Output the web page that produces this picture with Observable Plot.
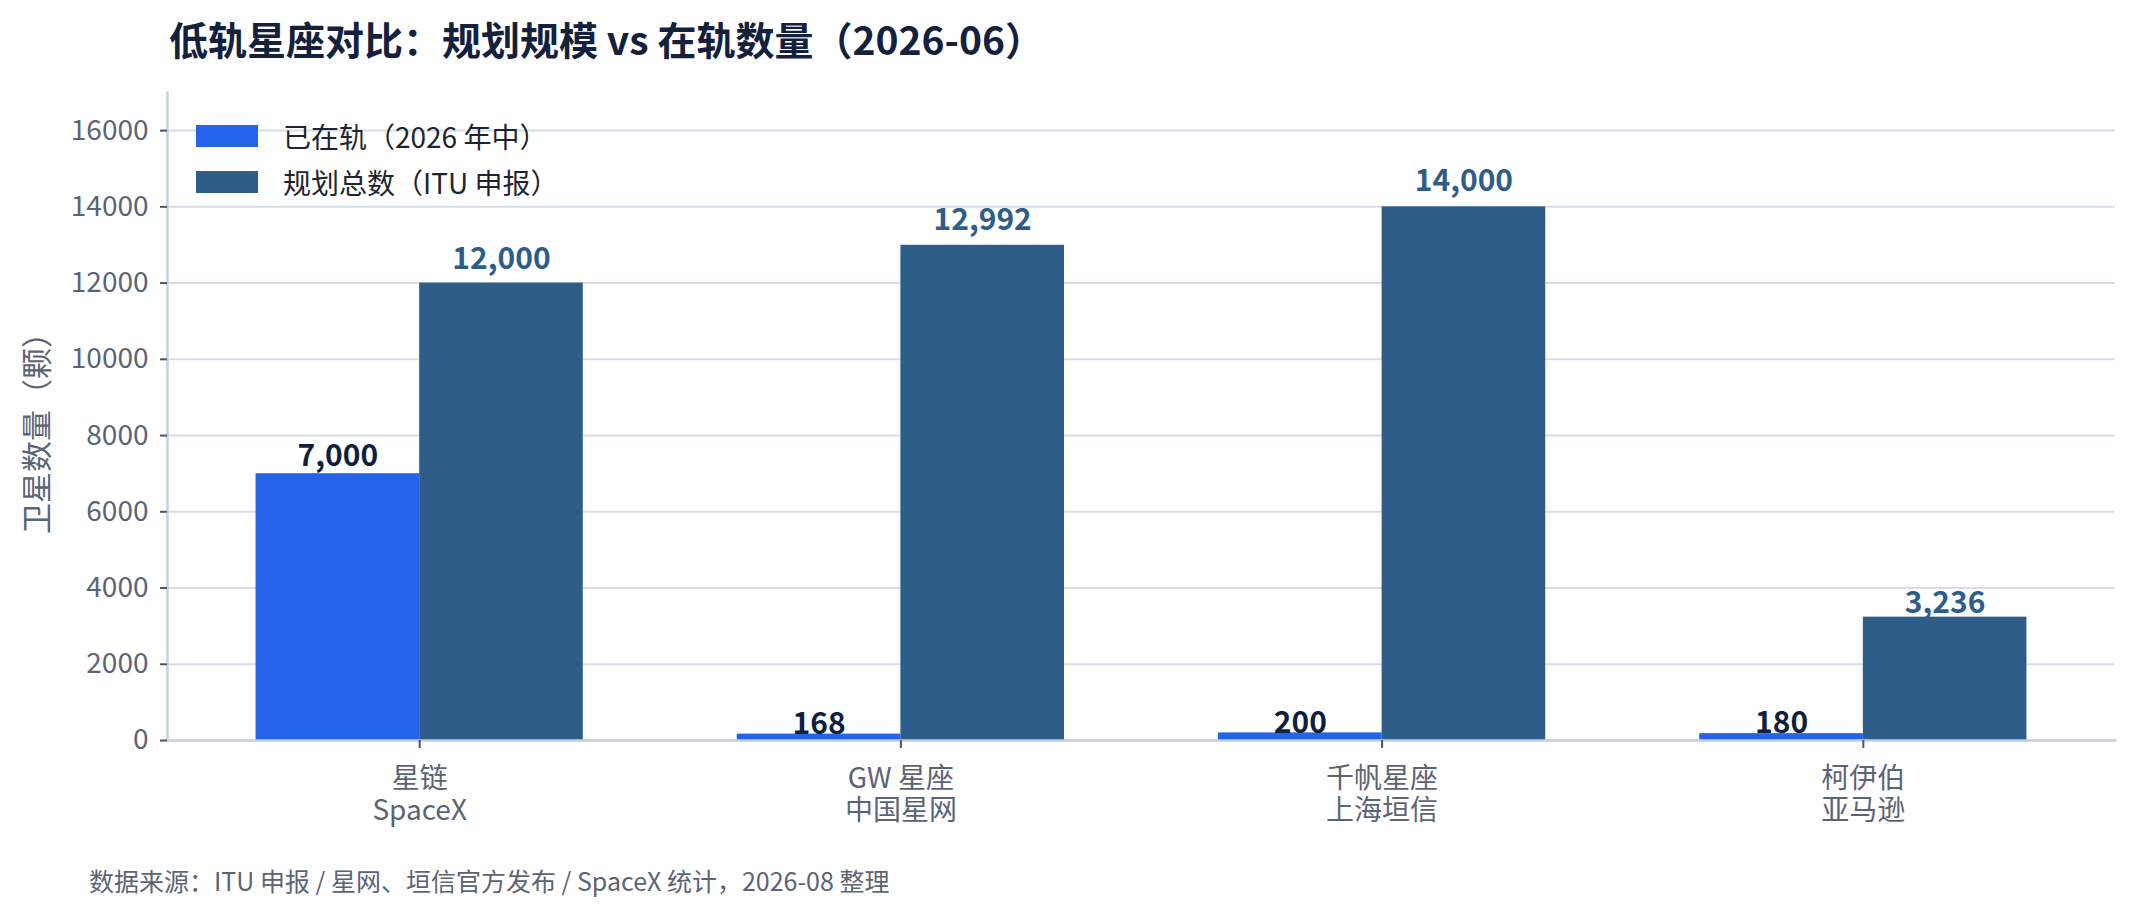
<!DOCTYPE html>
<html>
<head>
<meta charset="utf-8">
<script src="https://cdn.jsdelivr.net/npm/d3@7"></script>
<script src="https://cdn.jsdelivr.net/npm/@observablehq/plot@0.6"></script>
<style>
html, body { margin: 0; padding: 0; background: #fff; }
body { width: 2136px; height: 917px; overflow: hidden; font-family: "Noto Sans CJK SC", "Noto Sans", sans-serif; }
#wrap { position: relative; width: 2136px; height: 917px; }
#title { position: absolute; left: 169px; top: 19px; font-size: 39px; font-weight: 700; line-height: 1; color: #14213d; white-space: nowrap; }
#chart { position: absolute; left: 0; top: 70px; }
#legend { position: absolute; left: 196px; top: 113px; }
.item { display: flex; align-items: center; height: 46px; font-size: 28px; color: #1f2430; white-space: nowrap; }
.sw { width: 62px; height: 22px; margin-right: 25px; }
#caption { position: absolute; left: 89px; top: 868px; font-size: 25px; line-height: 1; color: #5b6475; white-space: nowrap; }
</style>
</head>
<body>
<div id="wrap">
  <div id="title"></div>
  <div id="chart"></div>
  <div id="legend"></div>
  <div id="caption"></div>
</div>
<script>
const titleText = "低轨星座对比：规划规模 vs 在轨数量（2026-06）";
const captionText = "数据来源：ITU 申报 / 星网、垣信官方发布 / SpaceX 统计，2026-08 整理";
const yLabel = "卫星数量（颗）";

const categories = ["星链", "GW 星座", "千帆星座", "柯伊伯"];
const operators = ["SpaceX", "中国星网", "上海垣信", "亚马逊"];
const inOrbit = [7000, 168, 200, 180];
const planned = [12000, 12992, 14000, 3236];
const yTicks = [0, 2000, 4000, 6000, 8000, 10000, 12000, 14000, 16000];
const seriesNames = ["已在轨（2026 年中）", "规划总数（ITU 申报）"];
const seriesColors = ["#2563eb", "#2f5d8a"];

document.getElementById("title").textContent = titleText;
document.getElementById("caption").textContent = captionText;
const legend = document.getElementById("legend");
seriesNames.forEach((n, k) => {
  const it = document.createElement("div");
  it.className = "item";
  const sw = document.createElement("div");
  sw.className = "sw";
  sw.style.background = seriesColors[k];
  const tx = document.createElement("span");
  tx.textContent = n;
  it.appendChild(sw); it.appendChild(tx);
  legend.appendChild(it);
});

const rows = categories.map((c, i) => ({i, name: c, op: operators[i], orbit: inOrbit[i], plan: planned[i]}));
const W = 0.34;          // bar width in category units
const lift = 1.03;       // labels sit just above each bar, proportional to its height
const fmt = d3.format(",");
const axisColor = "#c5d0e0";
const labelFont = {fontWeight: "bold", fontSize: 30, lineAnchor: "bottom", textAnchor: "middle"};

const chart = Plot.plot({
  width: 2136,
  height: 780,
  marginTop: 22,
  marginBottom: 110,
  marginLeft: 167,
  marginRight: 21,
  style: {fontFamily: "'Noto Sans CJK SC', 'Noto Sans', sans-serif", fontSize: "28px", background: "transparent", overflow: "visible"},
  x: {domain: [-0.524, 3.524]},
  y: {domain: [0, 17000]},
  marks: [
    Plot.gridY(yTicks, {stroke: "#d5dde8", strokeOpacity: 1, strokeWidth: 2}),
    Plot.rect(rows, {x1: d => d.i - W, x2: d => d.i, y1: 0, y2: "orbit", fill: seriesColors[0]}),
    Plot.rect(rows, {x1: d => d.i, x2: d => d.i + W, y1: 0, y2: "plan", fill: seriesColors[1]}),
    Plot.frame({anchor: "left", stroke: axisColor, strokeWidth: 2.5}),
    Plot.frame({anchor: "bottom", stroke: axisColor, strokeWidth: 2.5}),
    Plot.axisX({
      ticks: rows.map(d => d.i),
      tickFormat: i => categories[i] + "\n" + operators[i],
      tickSize: 8, tickPadding: 16, lineHeight: 1.16,
      stroke: "#4b5563", strokeWidth: 2, fill: "#5b6475", label: null
    }),
    Plot.axisY({
      ticks: yTicks, tickFormat: d3.format("d"),
      tickSize: 7, tickPadding: 12,
      stroke: "#4b5563", strokeWidth: 2, fill: "#5b6475",
      label: null
    }),
    Plot.text([yLabel], {frameAnchor: "left", rotate: -90, dx: -129, dy: 9, fontSize: 31, fill: "#5b6475", textAnchor: "middle", lineAnchor: "middle"}),
    Plot.text(rows, {x: d => d.i - W / 2, y: d => d.orbit * lift, text: d => fmt(d.orbit), fill: "#0f1f3d", ...labelFont}),
    Plot.text(rows, {x: d => d.i + W / 2, y: d => d.plan * lift, text: d => fmt(d.plan), fill: seriesColors[1], ...labelFont})
  ]
});
document.getElementById("chart").appendChild(chart);
</script>
</body>
</html>
